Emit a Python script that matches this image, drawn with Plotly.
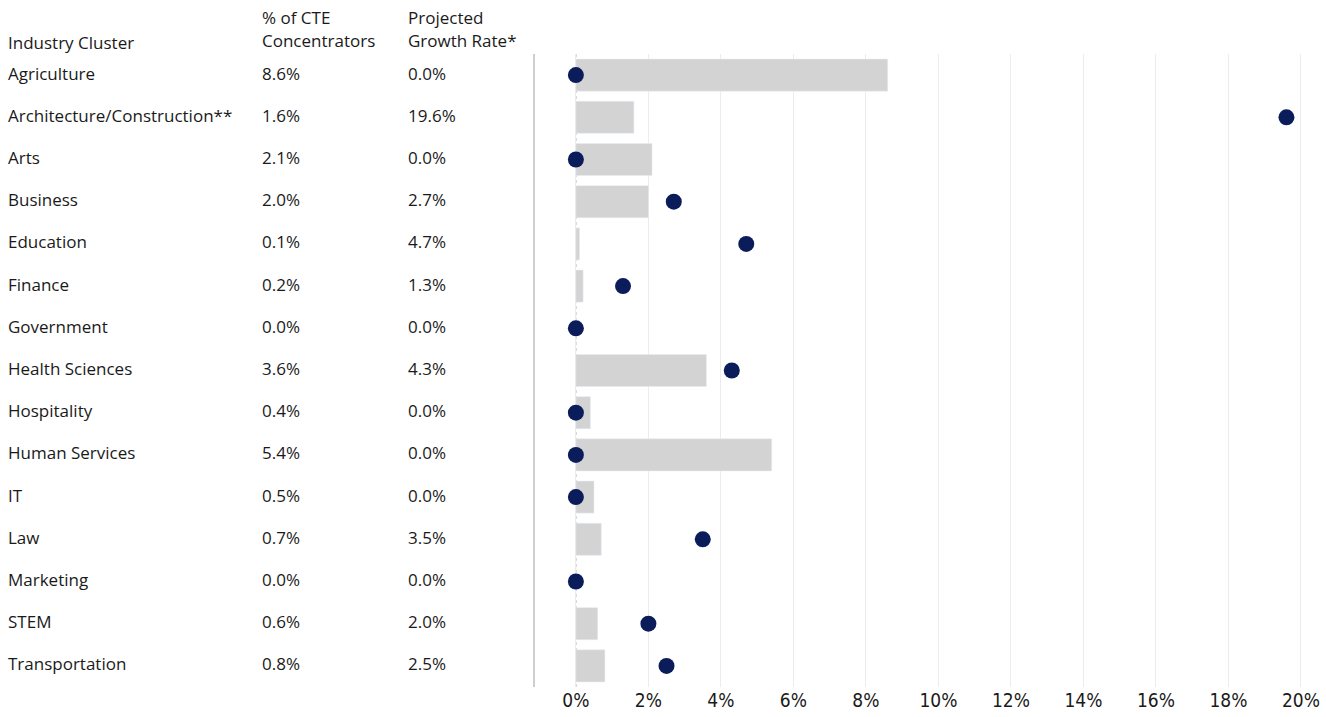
import plotly.graph_objects as go

clusters = ["Agriculture", "Architecture/Construction**", "Arts", "Business", "Education",
            "Finance", "Government", "Health Sciences", "Hospitality", "Human Services",
            "IT", "Law", "Marketing", "STEM", "Transportation"]
concentrators = [8.6, 1.6, 2.1, 2.0, 0.1, 0.2, 0.0, 3.6, 0.4, 5.4, 0.5, 0.7, 0.0, 0.6, 0.8]
growth = [0.0, 19.6, 0.0, 2.7, 4.7, 1.3, 0.0, 4.3, 0.0, 0.0, 0.0, 3.5, 0.0, 2.0, 2.5]
tick_vals = [0, 2, 4, 6, 8, 10, 12, 14, 16, 18, 20]
tick_text = [f"{v}%" for v in tick_vals]

W, H = 1326, 717
ML, MR, MT, MB = 535, 6, 54, 30
PW, PH = W - ML - MR, H - MT - MB

TEXT_FONT = dict(family="Open Sans, Lato, sans-serif", size=17, color="#1a1a1a")
NAVY = "#0b1c5a"
BAR = "#d3d3d3"


def px_x(p):
    return (p - ML) / PW


def px_y(p):
    return (H - MB - p) / PH


fig = go.Figure()
fig.add_trace(go.Bar(
    y=clusters, x=concentrators, orientation="h", marker_color=BAR,
    width=0.76, hoverinfo="skip", showlegend=False,
))
fig.add_trace(go.Scatter(
    y=clusters, x=growth, mode="markers", cliponaxis=False,
    marker=dict(color=NAVY, size=16), hoverinfo="skip", showlegend=False,
))

annotations = []
# header rows
headers = [
    (5, 42, "Industry Cluster"),
    (259, 17, "% of CTE"),
    (259, 41, "Concentrators"),
    (406, 17, "Projected"),
    (406, 41, "Growth Rate*"),
]
for x, y, t in headers:
    annotations.append(dict(x=px_x(x), y=px_y(y), xref="paper", yref="paper", text=t,
                            showarrow=False, xanchor="left", yanchor="middle", font=TEXT_FONT))
# table rows
for name, c, g in zip(clusters, concentrators, growth):
    for x, t in [(5, name), (259, f"{c:.1f}%"), (406, f"{g:.1f}%")]:
        annotations.append(dict(x=px_x(x), y=name, xref="paper", yref="y", yshift=2, text=t,
                                showarrow=False, xanchor="left", yanchor="middle", font=TEXT_FONT))

fig.update_layout(
    width=W, height=H,
    margin=dict(l=ML, r=MR, t=MT, b=MB),
    paper_bgcolor="white", plot_bgcolor="white",
    xaxis=dict(
        range=[-1.128, 20.47], tickvals=tick_vals, ticktext=tick_text,
        showgrid=True, gridcolor="#ececec", gridwidth=1, zeroline=False,
        showline=False, ticks="",
        tickfont=dict(family="Liberation Sans Narrow, DejaVu Sans Condensed, sans-serif",
                      size=19, color="#1a1a1a"),
    ),
    yaxis=dict(
        categoryorder="array", categoryarray=clusters, range=[14.5, -0.5],
        showticklabels=False, showgrid=False, zeroline=False,
        showline=True, linecolor="#cfcfcf", linewidth=1.5, ticks="",
    ),
    shapes=[dict(type="line", xref="x", yref="paper", x0=0, x1=0, y0=0, y1=1,
                 line=dict(color="#c4c4c4", width=1.5, dash="dot"), layer="below")],
    annotations=annotations,
)

fig.write_html("out.html")
